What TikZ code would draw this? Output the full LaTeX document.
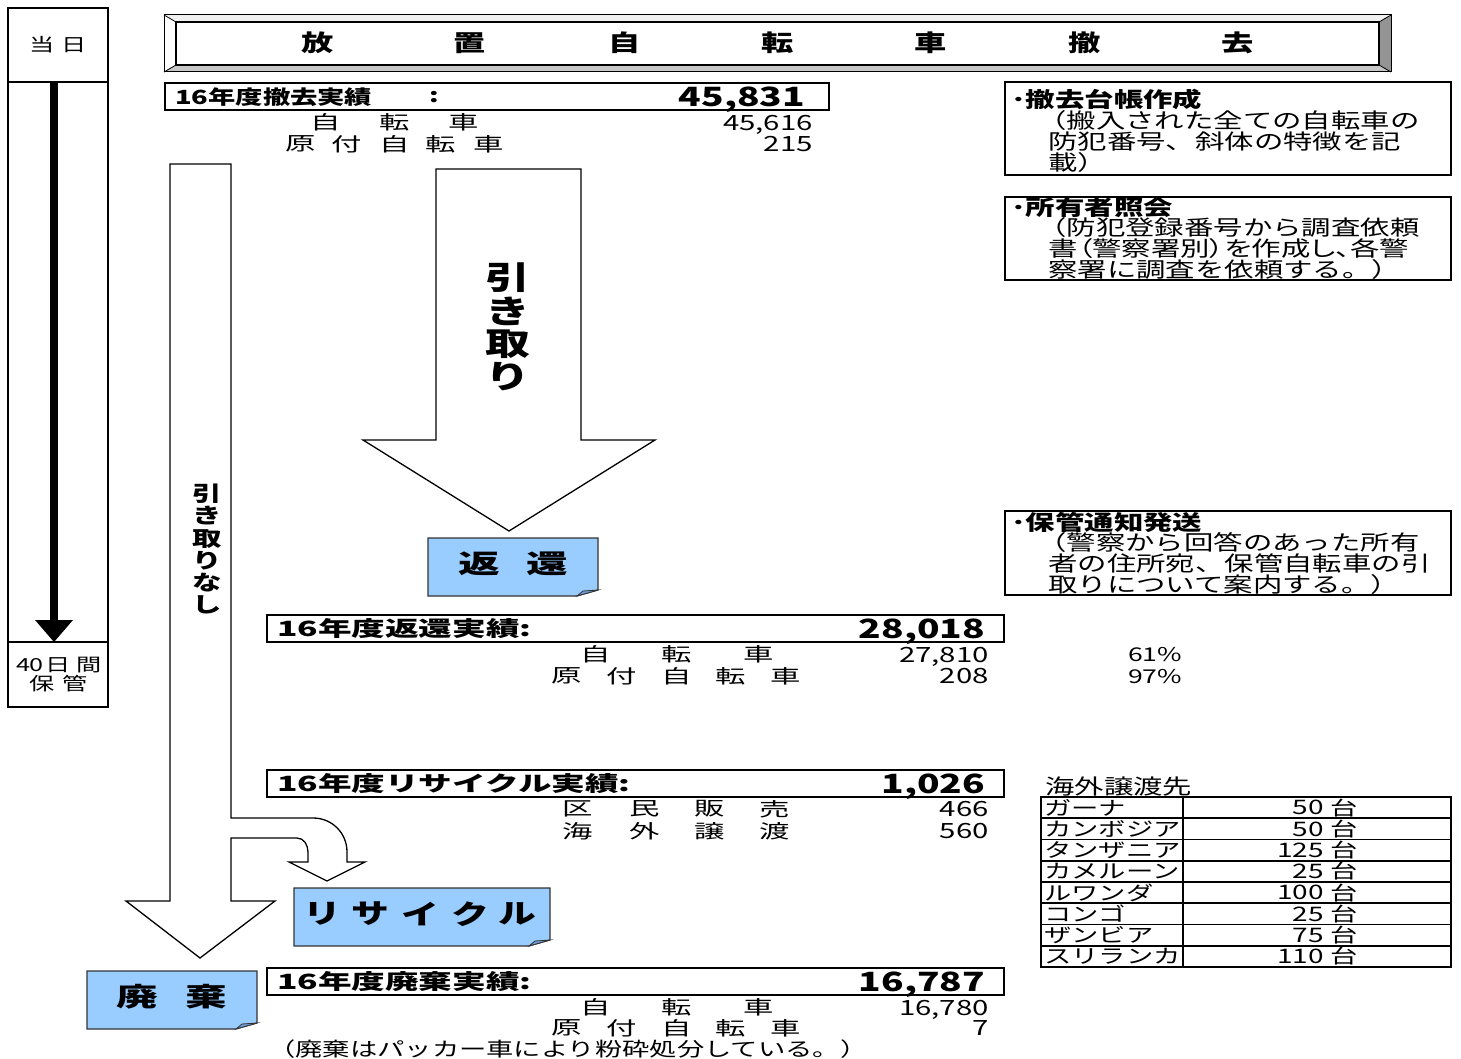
\documentclass[tikz,border=0pt]{standalone}
\usepackage{fontspec}
\newfontfamily\jp[FakeStretch=1.4]{Noto Sans CJK JP}
\newfontfamily\jpw[FakeStretch=1.6]{Noto Sans CJK JP}
\definecolor{noteblue}{HTML}{99CCFF}
\definecolor{flapblue}{HTML}{6E9ED8}
\newcommand\mynote[4]{%
  \draw[note] (#1,#2) -- (#3,#2) -- (#3,#4-6) -- (#3-21,#4) -- (#1,#4) -- cycle;
  \draw[flap] (#3-21,#4) -- (#3-15,#4-5) -- (#3,#4-6) -- cycle;}
\begin{document}
\begin{tikzpicture}[x=1pt,y=-1pt,
  tx/.style={inner sep=0pt, font=\jp\fontsize{#1}{#1}\selectfont},
  tb/.style={inner sep=0pt, font=\jp\bfseries\fontsize{#1}{#1}\selectfont},
  wx/.style={inner sep=0pt, font=\jpw\fontsize{#1}{#1}\selectfont},
  wb/.style={inner sep=0pt, font=\jpw\bfseries\fontsize{#1}{#1}\selectfont},
  numdown/.style={yshift=-2.5pt},
  numdn/.style={yshift=-0.5pt},
  bignum/.style={inner sep=0pt, font=\jp\bfseries\fontsize{26.5}{26.5}\selectfont, anchor=east, yshift=-3pt},
  frame/.style={draw=black, line width=2.4pt},
  infobox/.style={draw=black, line width=1.2pt},
  blockarrow/.style={draw=black, line width=1.3pt, fill=white, line join=miter},
  note/.style={draw=black!80, line width=1.2pt, fill=noteblue},
  flap/.style={draw=black!80, line width=0.8pt, fill=flapblue},
  tline/.style={draw=black, line width=1.8pt},
]
\useasboundingbox (0,0) rectangle (1461,1059);
\fill[white] (0,0) rectangle (1461,1059);

% ---------- timeline ----------
\draw[frame] (8,8) rectangle (108,707);
\draw[frame] (8,82) -- (108,82);
\draw[frame] (8,642) -- (108,642);
\coordinate (tlA) at (54,82);
\coordinate (tlB) at (54,621);
\coordinate (tlC) at (54,642);
\draw[line width=8pt] (tlA) -- (tlB);
\fill (35,620) -- (73,620) -- (tlC) -- cycle;
\node[tx=18] (day1) at (42,45) {当};
\node[tx=18] (day2) at (74,45) {日};
\node[tx=18, numdn] (keep1) at (30,665) {40};
\node[tx=18] (keep2) at (58,665) {日};
\node[tx=18] (keep3) at (89,665) {間};
\node[tx=18] (keep4) at (42,684) {保};
\node[tx=18] (keep5) at (75,684) {管};

% ---------- title bar ----------
\fill[black!6] (164,15) -- (1391,15) -- (1379,22) -- (176,22) -- cycle;
\fill[white] (164,15) -- (176,22) -- (176,65) -- (164,72) -- cycle;
\fill[black!22] (164,72) -- (176,65) -- (1379,65) -- (1391,72) -- cycle;
\fill[black!42] (1391,15) -- (1379,22) -- (1379,65) -- (1391,72) -- cycle;
\draw[line width=1pt] (164,15) rectangle (1391,72);
\draw[line width=1.2pt] (176,22) rectangle (1379,65);
\draw[line width=0.8pt] (164,15) -- (176,22) (1391,15) -- (1379,22) (164,72) -- (176,65) (1391,72) -- (1379,65);
\foreach \c/\x [count=\i] in {放/318,置/470,自/625,転/778,車/931,撤/1085,去/1238}
  \node[tb=23] (title\i) at (\x,43) {\c};

% ---------- removal results ----------
\draw[frame] (165,83) rectangle (829,110);
\node[tb=19.5, anchor=west] (h1) at (175,97) {16年度撤去実績};
\node[tb=19.5] (h1c) at (434,97) {:};
\node[bignum] (h1n) at (805,97) {45,831};
\foreach \c/\x [count=\i] in {自/326,転/395,車/464}
  \node[wx=19] (r1a\i) at (\x,122) {\c};
\node[tx=21, anchor=east, numdown] (r1an) at (813,122) {45,616};
\foreach \c/\x [count=\i] in {原/301,付/347,自/395,転/441,車/489}
  \node[wx=19] (r1b\i) at (\x,144) {\c};
\node[tx=21, anchor=east, numdn] (r1bn) at (813,144) {215};

% ---------- info boxes ----------
\draw[infobox] (1005,82) rectangle (1451,175);
\node[tb=21, anchor=west] (i1t) at (1011,100) {･撤去台帳作成};
\node[tx=21, anchor=west] (i1a) at (1037,121) {（搬入された全ての自転車の};
\node[tx=21, anchor=west] (i1b) at (1048,142) {防犯番号、斜体の特徴を記};
\node[tx=21, anchor=west] (i1c) at (1048,163) {載）};

\draw[infobox] (1005,197) rectangle (1451,280);
\node[tb=21, anchor=west] (i2t) at (1011,208) {･所有者照会};
\node[tx=21, anchor=west] (i2a) at (1037,228) {（防犯登録番号から調査依頼};
\node[tx=21, anchor=west] (i2b) at (1048,249) {\addfontfeature{RawFeature=+palt}書（警察署別）を作成し、各警};
\node[tx=21, anchor=west] (i2c) at (1048,270) {察署に調査を依頼する。）};

\draw[infobox] (1005,511) rectangle (1451,595);
\node[tb=21, anchor=west] (i3t) at (1011,522) {･保管通知発送};
\node[tx=21, anchor=west] (i3a) at (1037,543) {（警察から回答のあった所有};
\node[tx=21, anchor=west] (i3b) at (1048,564) {者の住所宛、保管自転車の引};
\node[tx=21, anchor=west] (i3c) at (1048,585) {取りについて案内する。）};

% ---------- arrow: pick up ----------
\draw[blockarrow] (436,169) -- (581,169) -- (581,440) -- (655,440) -- (509,531)
  -- (363,440) -- (436,440) -- cycle;
\foreach \c/\y [count=\i] in {引/278,き/311,取/344,り/377}
  \node[tb=32] (pk\i) at (508,\y) {\c};

% ---------- arrow: not picked up (with recycle branch) ----------
\draw[blockarrow] (170,164) -- (170,901) -- (126,901) -- (200,958) -- (275,901)
  -- (231,901) -- (231,838) -- (297,838) .. controls (304,838) and (308,845) .. (308,852)
  -- (308,862) -- (289,862) -- (327,881) -- (365,862) -- (347,862) -- (347,852)
  .. controls (347,833) and (332,818) .. (313,818) -- (231,818) -- (231,164) -- cycle;
\foreach \c/\y [count=\i] in {引/494,き/516,取/539,り/561,な/583,し/605}
  \node[tb=21] (npk\i) at (207,\y) {\c};

% ---------- return ----------
\mynote{428}{538}{598}{596}
\node[wb=26] (ret1) at (479,564) {返};
\node[wb=26] (ret2) at (547,564) {還};

\draw[frame] (267,615) rectangle (1004,642);
\node[wb=21, anchor=west] (h2) at (277,629) {16年度返還実績:};
\node[bignum] (h2n) at (985,629) {28,018};
\foreach \c/\x [count=\i] in {自/596,転/677,車/759}
  \node[wx=19] (r2a\i) at (\x,654) {\c};
\node[tx=21, anchor=east, numdown] (r2an) at (989,654) {27,810};
\node[tx=19, numdn] (r2ap) at (1155,654) {61\%};
\foreach \c/\x [count=\i] in {原/567,付/622,自/677,転/731,車/786}
  \node[wx=19] (r2b\i) at (\x,676) {\c};
\node[tx=21, anchor=east, numdn] (r2bn) at (989,676) {208};
\node[tx=19, numdn] (r2bp) at (1155,676) {97\%};

% ---------- recycle ----------
\draw[frame] (267,770) rectangle (1004,797);
\node[wb=21, anchor=west] (h3) at (277,784) {16年度リサイクル実績:};
\node[bignum] (h3n) at (985,784) {1,026};
\foreach \c/\x [count=\i] in {区/578,民/645,販/710,売/775}
  \node[wx=19] (r3a\i) at (\x,809) {\c};
\node[tx=21, anchor=east, numdn] (r3an) at (989,809) {466};
\foreach \c/\x [count=\i] in {海/578,外/645,譲/710,渡/775}
  \node[wx=19] (r3b\i) at (\x,831) {\c};
\node[tx=21, anchor=east, numdn] (r3bn) at (989,831) {560};

\mynote{294}{888}{550}{946}
\foreach \c/\x [count=\i] in {リ/322,サ/370,イ/420,ク/470,ル/517}
  \node[tb=27] (rc\i) at (\x,914) {\c};

% ---------- disposal ----------
\mynote{87}{971}{257}{1029}
\node[wb=26] (dis1) at (137,997) {廃};
\node[wb=26] (dis2) at (206,997) {棄};

\draw[frame] (267,968) rectangle (1004,995);
\node[wb=21, anchor=west] (h4) at (277,982) {16年度廃棄実績:};
\node[bignum] (h4n) at (985,982) {16,787};
\foreach \c/\x [count=\i] in {自/596,転/677,車/759}
  \node[wx=19] (r4a\i) at (\x,1007) {\c};
\node[tx=21, anchor=east, numdown] (r4an) at (989,1007) {16,780};
\foreach \c/\x [count=\i] in {原/567,付/622,自/677,転/731,車/786}
  \node[wx=19] (r4b\i) at (\x,1028) {\c};
\node[tx=21, anchor=east, numdn] (r4bn) at (989,1028) {7};
\node[tx=19.5, anchor=west] (dnote) at (268,1049) {（廃棄はパッカー車により粉砕処分している。）};

% ---------- overseas table ----------
\node[tx=21, anchor=west] (tblh) at (1045,787) {海外譲渡先};
\draw[tline] (1041,797) rectangle (1451,967);
\foreach \i in {1,...,7} \draw[tline] (1041,{797+21.25*\i}) -- (1451,{797+21.25*\i});
\draw[tline] (1183,797) -- (1183,967);
\foreach \n/\v [count=\i] in {ガーナ/50,カンボジア/50,タンザニア/125,カメルーン/25,ルワンダ/100,コンゴ/25,ザンビア/75,スリランカ/110}{
  \node[tx=19.5, anchor=west] (cn\i) at (1044,{797+21.25*(\i-0.5)}) {\n};
  \node[tx=20, anchor=east] (cv\i) at (1324,{797+21.25*(\i-0.5)}) {\v};
  \node[tx=19.5] (cu\i) at (1344,{797+21.25*(\i-0.5)}) {台};
}
\end{tikzpicture}
\end{document}
